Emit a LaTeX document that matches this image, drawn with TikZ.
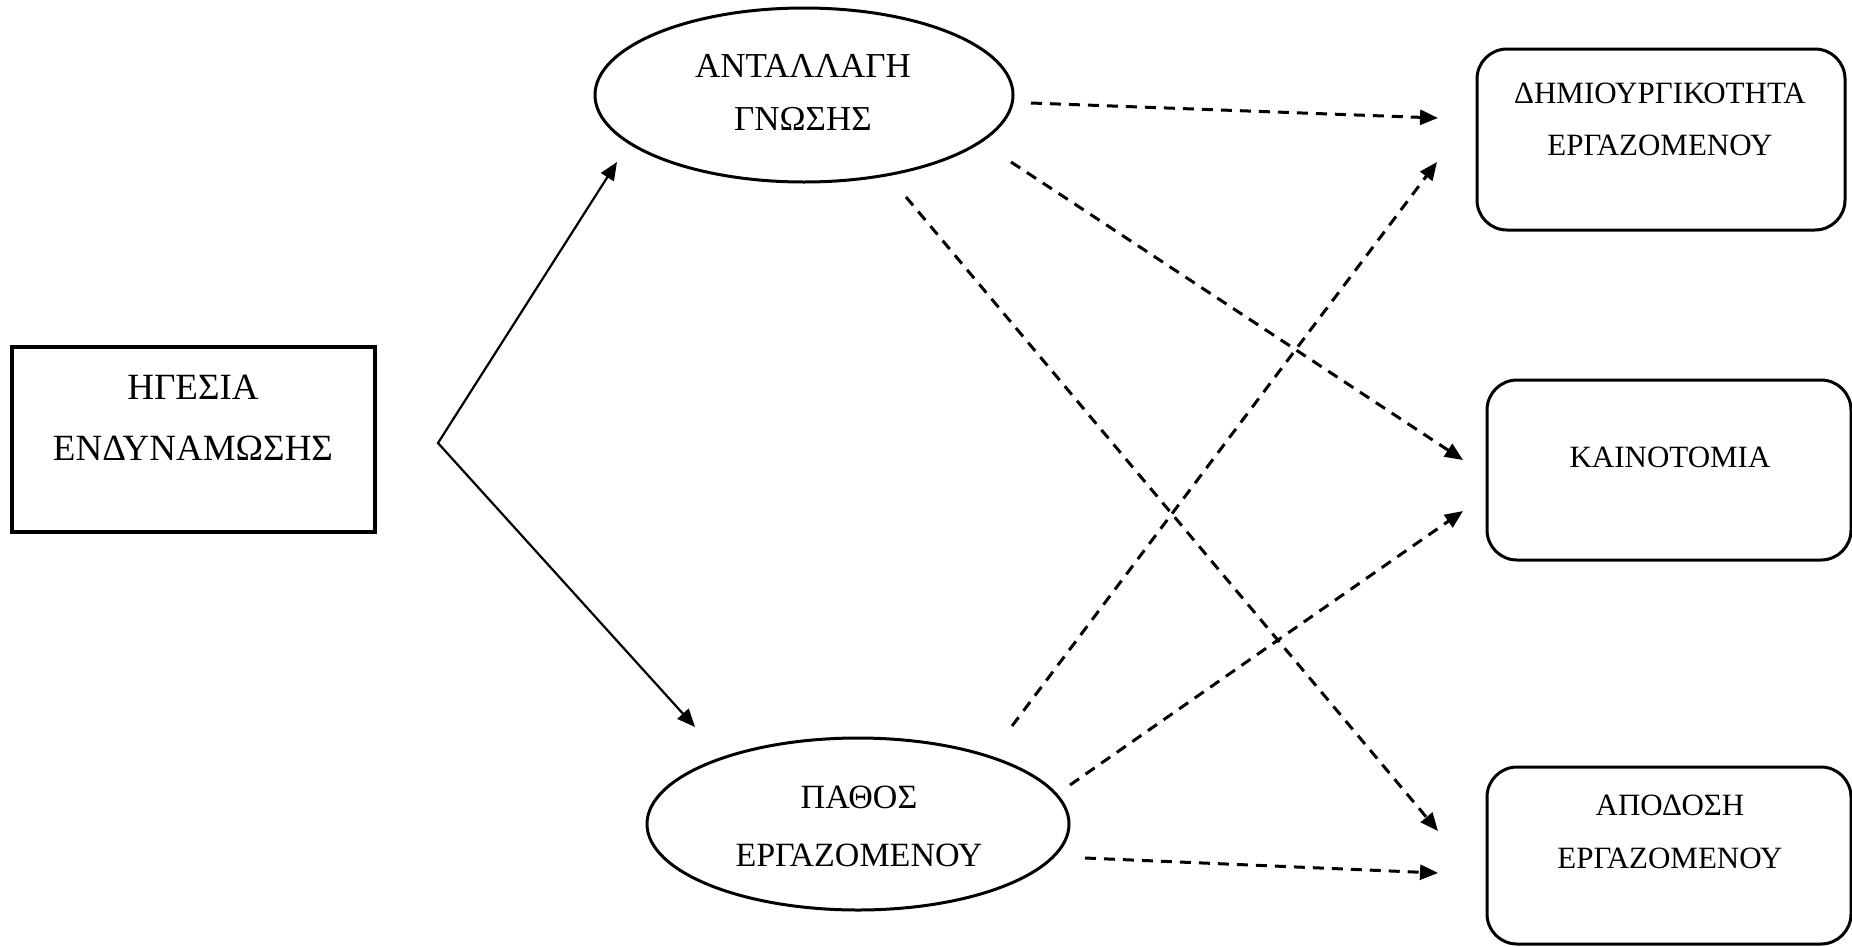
\documentclass[tikz,border=0pt]{standalone}
\usepackage{fontspec}
\setmainfont{Liberation Serif}
\usetikzlibrary{arrows.meta,shapes.geometric}
\begin{document}
\begin{tikzpicture}[x=1pt,y=-1pt,
  sq/.style={draw, line width=4.5pt, rectangle, inner sep=0pt},
  rbox/.style={draw, line width=3pt, rectangle, rounded corners=30pt, inner sep=0pt},
  ell/.style={draw, line width=3pt, ellipse, inner sep=0pt},
  txt/.style={align=center, inner sep=0pt},
  solidarr/.style={line width=2.2pt, line join=miter},
  dasharr/.style={line width=3pt, dash pattern=on 11pt off 8pt, -{Triangle[length=18pt,width=15pt]}},
]
\useasboundingbox (0,0) rectangle (1852,946);
\fill[white] (0,0) rectangle (1852,946);

% left box
\node[sq, minimum width=363pt, minimum height=185pt] (hg) at (193.5,439.5) {};
\node[txt, font=\fontsize{37}{61}\selectfont] (hgt) at (193,418) {ΗΓΕΣΙΑ\\ΕΝΔΥΝΑΜΩΣΗΣ};

% ellipses
\node[ell, minimum width=418pt, minimum height=174pt] (ag) at (804,95) {};
\node[txt, font=\fontsize{35}{53}\selectfont] (agt) at (803,92) {ΑΝΤΑΛΛΑΓΗ\\ΓΝΩΣΗΣ};

\node[ell, minimum width=422pt, minimum height=172pt] (pe) at (858,824) {};
\node[txt, font=\fontsize{34}{58}\selectfont] (pet) at (859,826) {ΠΑΘΟΣ\\ΕΡΓΑΖΟΜΕΝΟΥ};

% right boxes
\node[rbox, minimum width=368pt, minimum height=181pt] (dim) at (1661,139.5) {};
\node[txt, font=\fontsize{31}{52}\selectfont] (dimt) at (1660,119) {ΔΗΜΙΟΥΡΓΙΚΟΤΗΤΑ\\ΕΡΓΑΖΟΜΕΝΟΥ};

\node[rbox, minimum width=364pt, minimum height=180pt] (kain) at (1669,470) {};
\node[txt, font=\fontsize{31}{52}\selectfont] (kaint) at (1670,457) {ΚΑΙΝΟΤΟΜΙΑ};

\node[rbox, minimum width=364pt, minimum height=177pt] (apod) at (1669,855.5) {};
\node[txt, font=\fontsize{31}{53}\selectfont] (apodt) at (1670,832) {ΑΠΟΔΟΣΗ\\ΕΡΓΑΖΟΜΕΝΟΥ};

% solid fork
\coordinate (fork) at (438,443);
\coordinate (tipA) at (617,162);
\coordinate (tipB) at (695,727);
\draw[solidarr, {Triangle[length=18pt,width=15pt]}-{Triangle[length=18pt,width=15pt]}] (tipA) -- (fork) -- (tipB);

% dashed arrows
\coordinate (a1s) at (1031,103); \coordinate (a1e) at (1438,118);
\coordinate (a2s) at (1011,162); \coordinate (a2e) at (1463,460);
\coordinate (a3s) at (906,197);  \coordinate (a3e) at (1438,831);
\coordinate (a4s) at (1012,726); \coordinate (a4e) at (1437,162);
\coordinate (a5s) at (1070,785); \coordinate (a5e) at (1463,511);
\coordinate (a6s) at (1085,858); \coordinate (a6e) at (1438,873);
\draw[dasharr] (a1s) -- (a1e);
\draw[dasharr] (a2s) -- (a2e);
\draw[dasharr] (a3s) -- (a3e);
\draw[dasharr] (a4s) -- (a4e);
\draw[dasharr] (a5s) -- (a5e);
\draw[dasharr] (a6s) -- (a6e);
\end{tikzpicture}
\end{document}
